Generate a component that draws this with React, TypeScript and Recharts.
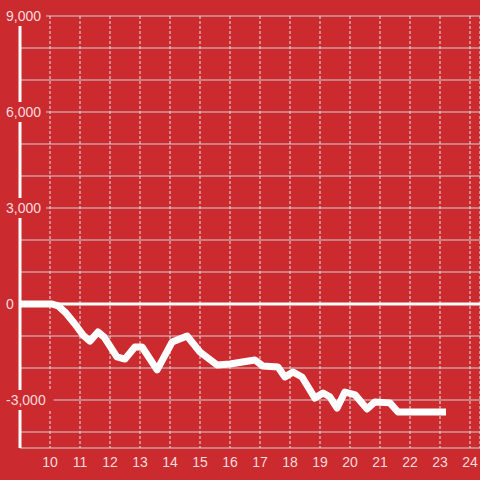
import React from 'react';
import { LineChart, Line, XAxis, YAxis, CartesianGrid, ReferenceLine } from 'recharts';

const hours = [9, 10.07, 10.27, 10.53, 10.83, 11.1, 11.33, 11.6, 11.8, 12.23, 12.5, 12.83, 13.07, 13.57, 14.07, 14.57, 15, 15.57, 16, 16.83, 17.1, 17.6, 17.83, 18.1, 18.4, 18.83, 19.1, 19.33, 19.57, 19.83, 20.17, 20.57, 20.83, 21.33, 21.6, 23.2];
const balance = [0, 0, -60, -280, -625, -970, -1160, -875, -1030, -1655, -1720, -1345, -1345, -2060, -1190, -1000, -1500, -1905, -1875, -1750, -1940, -1970, -2280, -2125, -2280, -2940, -2780, -2900, -3250, -2750, -2840, -3280, -3060, -3090, -3375, -3375];
const xTicks = [10, 11, 12, 13, 14, 15, 16, 17, 18, 19, 20, 21, 22, 23, 24];
const yTicks = [-4000, -3000, -2000, -1000, 0, 1000, 2000, 3000, 4000, 5000, 6000, 7000, 8000, 9000];

const data = hours.map((h, i) => ({ hour: h, value: balance[i] }));

const BG = '#cb2a2f';
const LABEL = '#f4dcdc';
const FONT = '"Liberation Sans", Arial, sans-serif';

// only every third gridline gets a label; its red box hides the axis and grid behind it
const YTick = (props: any) => {
    const { x, y, payload } = props;
    if (payload.value % 3000 !== 0) return <g />;
    const label = payload.value.toLocaleString('en-US');
    const w = label.length * 7.6;
    const left = x - 14;
    return (
        <g>
            <rect x={left - 1} y={y - 10} width={w + 3} height={20} fill={BG} />
            <text x={left} y={y} dy="0.35em" textAnchor="start" fill={LABEL} fontSize={14} fontFamily={FONT}>
                {label}
            </text>
        </g>
    );
};

const VGrid = (props: any) => {
    if (props.x1 < 30) return <g key={props.key} />;
    return (
        <line key={props.key} x1={props.x1} y1={props.y1} x2={props.x2} y2={props.y2} stroke="#e4e4e4" strokeWidth={1} strokeDasharray="3 2" />
    );
};

export default function App() {
    return (
        <div style={{ position: 'absolute', left: 0, top: 0, width: 480, height: 480, background: BG }}>
            <LineChart width={480} height={480} data={data} margin={{ top: 16, right: 0, left: 0, bottom: 0 }}>
                <CartesianGrid horizontal={true} vertical={VGrid} stroke="#cfd2d2" />
                <XAxis
                    dataKey="hour"
                    type="number"
                    domain={[9, 24.3333]}
                    ticks={xTicks}
                    allowDataOverflow
                    axisLine={false}
                    tickLine={false}
                    tickSize={0}
                    tickMargin={9}
                    height={32}
                    interval={0}
                    tick={{ fill: LABEL, fontSize: 14, fontFamily: FONT }}
                />
                <YAxis
                    type="number"
                    domain={[-4500, 9000]}
                    ticks={yTicks}
                    allowDataOverflow
                    width={20}
                    axisLine={{ stroke: '#ffffff', strokeWidth: 3 }}
                    tickLine={false}
                    tickSize={0}
                    tickMargin={0}
                    interval={0}
                    tick={<YTick />}
                />
                <ReferenceLine y={0} stroke="#ffffff" strokeWidth={3} />
                <Line
                    type="linear"
                    dataKey="value"
                    stroke="#ffffff"
                    strokeWidth={7}
                    strokeLinejoin="round"
                    dot={false}
                    isAnimationActive={false}
                />
            </LineChart>
        </div>
    );
}
